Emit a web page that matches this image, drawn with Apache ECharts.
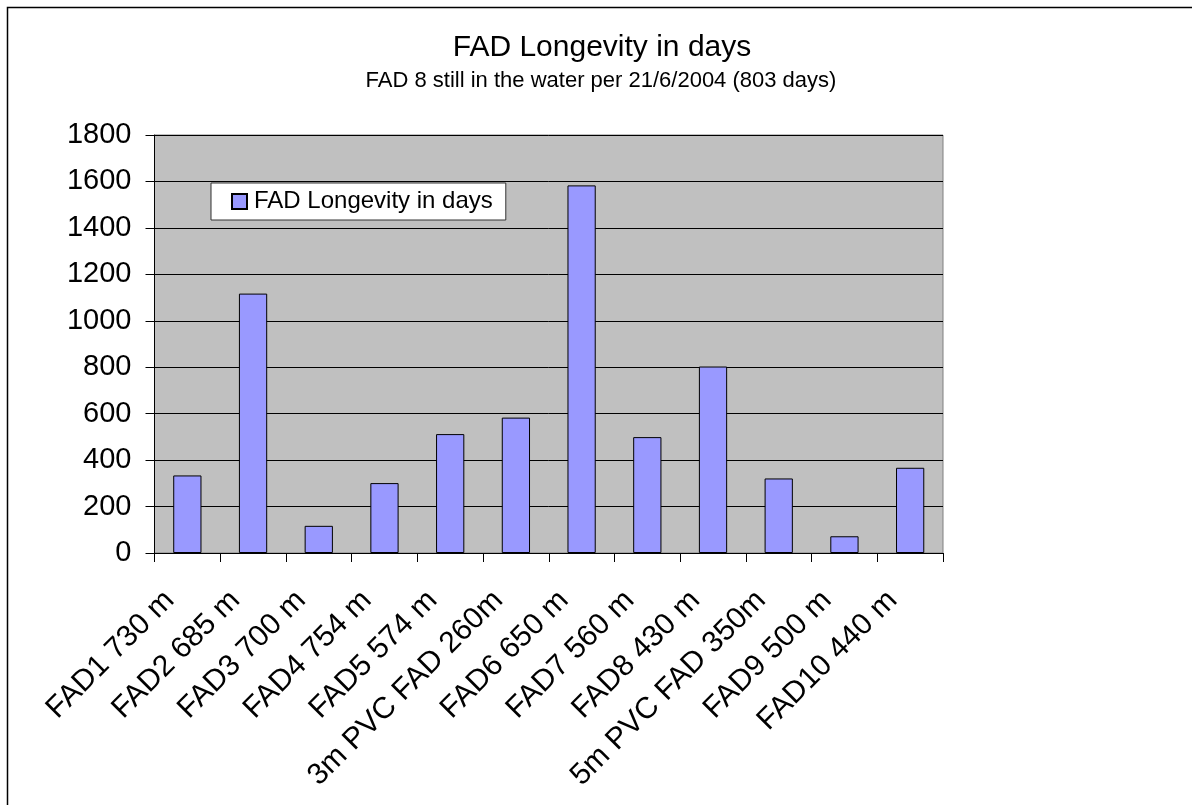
<!DOCTYPE html>
<html>
<head>
<meta charset="utf-8">
<script src="https://cdn.jsdelivr.net/npm/echarts@6/dist/echarts.min.js"></script>
<style>html,body{margin:0;padding:0;background:#fff}#c{width:1192px;height:805px}</style>
</head>
<body>
<div id="c"></div>
<script>
const categories = ['FAD1 730 m','FAD2 685 m','FAD3 700 m','FAD4 754 m','FAD5 574 m','3m PVC FAD 260m','FAD6 650 m','FAD7 560 m','FAD8 430 m','5m PVC FAD 350m','FAD9 500 m','FAD10 440 m'];
const longevity = [334, 1117, 117, 301, 512, 583, 1583, 499, 803, 321, 72, 367];
const yTicks = [0, 200, 400, 600, 800, 1000, 1200, 1400, 1600, 1800];
const seriesName = 'FAD Longevity in days';
const titleText = 'FAD Longevity in days';
const subtitleText = 'FAD 8 still in the water per 21/6/2004 (803 days)';

const chart = echarts.init(document.getElementById('c'));
const font = 'Liberation Sans, Arial, sans-serif';
chart.setOption({
  animation: false,
  backgroundColor: '#ffffff',
  graphic: [
    { type: 'rect', shape: { x: 7.5, y: 7.5, width: 1200, height: 820 }, style: { fill: 'none', stroke: '#000', lineWidth: 1.5 }, z: -1 }
  ],
  title: [
    { text: titleText, left: 602, top: 33, textAlign: 'center', padding: 0,
      textStyle: { fontFamily: font, fontSize: 30, lineHeight: 30, fontWeight: 'normal', color: '#000' } },
    { text: subtitleText, left: 601, top: 70, textAlign: 'center', padding: 0,
      textStyle: { fontFamily: font, fontSize: 22, lineHeight: 22, fontWeight: 'normal', color: '#000' } }
  ],
  legend: {
    left: 211, top: 183,
    padding: [6, 13, 6, 20],
    backgroundColor: '#fff', borderColor: '#333', borderWidth: 1,
    itemWidth: 15, itemHeight: 15, itemGap: 4,
    textStyle: { fontFamily: font, fontSize: 24, lineHeight: 25, color: '#000', padding: [0, 0, 0, 2] },
    data: [{ name: seriesName, icon: 'rect' }]
  },
  grid: { left: 154.5, top: 135, right: 249, bottom: 252, show: true, backgroundColor: '#c0c0c0', borderColor: '#808080', borderWidth: 1 },
  xAxis: {
    type: 'category', data: categories,
    axisLine: { lineStyle: { color: '#000', width: 1 } },
    axisTick: { show: true, length: 9, lineStyle: { color: '#000' } },
    axisLabel: { rotate: 45, interval: 0, fontFamily: font, fontSize: 30, color: '#000', margin: 25, padding: [0, 25, 0, 0] }
  },
  yAxis: {
    type: 'value', min: yTicks[0], max: yTicks[yTicks.length - 1], interval: yTicks[1] - yTicks[0],
    axisLine: { show: true, lineStyle: { color: '#000', width: 1 } },
    axisTick: { show: true, length: 9, lineStyle: { color: '#000' } },
    axisLabel: { fontFamily: font, fontSize: 29, color: '#000', margin: 23, formatter: v => String(v) },
    splitLine: { lineStyle: { color: '#000', width: 1 } }
  },
  series: [{
    name: seriesName, type: 'bar', data: longevity,
    barWidth: '43%',
    itemStyle: { color: '#9999ff', borderColor: '#000', borderWidth: 1 }
  }]
});
</script>
</body>
</html>
